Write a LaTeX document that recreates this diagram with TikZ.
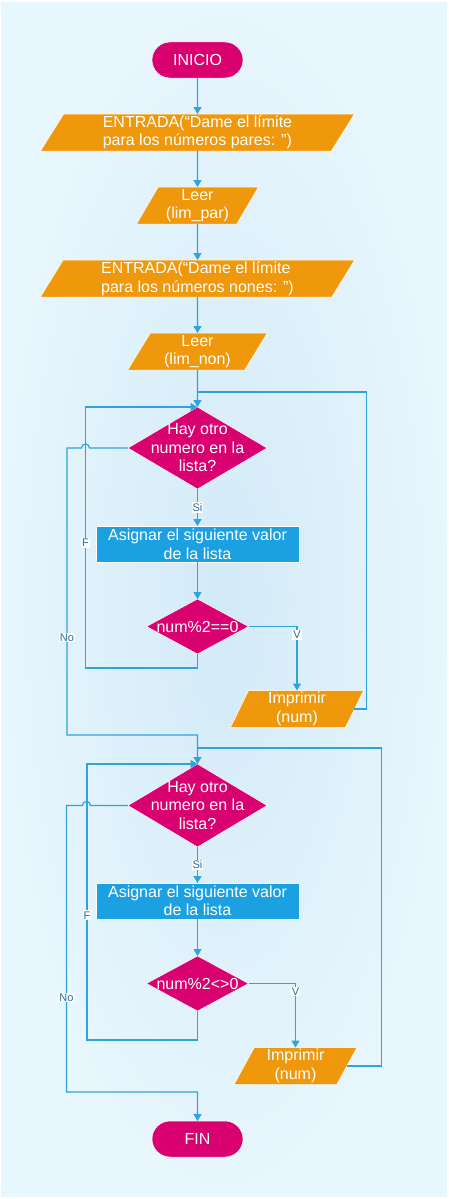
\documentclass[tikz,border=0pt]{standalone}
\usepackage{fontspec}
\setmainfont{Liberation Sans}
\usetikzlibrary{positioning,shapes.geometric,arrows.meta,calc}

\definecolor{termcol}{HTML}{D9006F}
\definecolor{iocol}{HTML}{F0980C}
\definecolor{proccol}{HTML}{1BA1E2}
\definecolor{linecol}{HTML}{2FA3DC}
\definecolor{lblcol}{HTML}{2E6A9F}
\definecolor{bgin}{HTML}{D2EAF7}
\definecolor{bgout}{HTML}{E8F6FD}

\begin{document}
\begin{tikzpicture}[x=1pt,y=-1pt,node distance=36pt,outer sep=0pt,
    font=\fontsize{16}{18.5}\selectfont,
    terminal/.style={rectangle,rounded corners=18pt,fill=termcol,draw=white,line width=0.5pt,text=white,minimum width=91pt,minimum height=36pt,inner sep=0pt},
    iobox/.style={trapezium,trapezium stretches=true,fill=iocol,draw=white,line width=0.5pt,text=white,minimum height=37pt,inner sep=0pt,align=center},
    procbox/.style={rectangle,fill=proccol,draw=white,line width=0.5pt,text=white,minimum width=203pt,minimum height=36pt,inner sep=0pt,align=center},
    decision/.style={diamond,fill=termcol,draw=white,line width=0.5pt,inner sep=0pt},
    flowline/.style={draw=linecol,line width=1.2pt},
    flowarrow/.style={flowline,-{Triangle[width=8pt,length=7pt]}},
    lbl/.style={fill=white,text=lblcol,inner sep=1pt,font=\fontsize{11}{12}\selectfont}]

\useasboundingbox (0,0) rectangle (449,1199);
\fill[white] (0,0) rectangle (449,1199);
\shade[inner color=bgin,outer color=bgout] (1,3) rectangle (447,1196);

% Entradas
\node[terminal] (inicio) at (197.5,60) {INICIO};
\node[iobox,trapezium left angle=64,trapezium right angle=116,minimum width=315pt,align=left,below=of inicio] (entrada1) {ENTRADA(“Dame el límite\\para los números pares: ”)};
\node[iobox,trapezium left angle=62,trapezium right angle=118,minimum width=122pt,below=of entrada1] (leer1) {Leer\\(lim\_par)};
\node[iobox,trapezium left angle=64,trapezium right angle=116,minimum width=315pt,align=left,below=of leer1] (entrada2) {ENTRADA(“Dame el límite\\para los números nones: ”)};
\node[iobox,trapezium left angle=64,trapezium right angle=116,minimum width=140pt,below=of entrada2] (leer2) {Leer\\(lim\_non)};

% Ciclo de los pares
\node[decision,minimum width=139pt,minimum height=82pt,below=37pt of leer2,label={[text=white,align=center]center:Hay otro\\numero en la\\lista?}] (otro1) {};
\node[procbox,below=37pt of otro1] (asig1) {Asignar el siguiente valor\\de la lista};
\node[decision,minimum width=102pt,minimum height=55pt,below=37pt of asig1,label={[text=white]center:num\%2==0}] (par) {};
\node[iobox,trapezium left angle=72,trapezium right angle=108,minimum width=134pt] (imp1) at (297,709) {Imprimir\\(num)};
\coordinate (join1) at (197.5,392);

% Ciclo de los nones
\node[decision,minimum width=139pt,minimum height=83pt,label={[text=white,align=center]center:Hay otro\\numero en la\\lista?}] (otro2) at (197.5,805.5) {};
\node[procbox,below=of otro2] (asig2) {Asignar el siguiente valor\\de la lista};
\node[decision,minimum width=102pt,minimum height=55pt,below=37pt of asig2,label={[text=white]center:num\%2<>0}] (non) {};
\node[iobox,trapezium left angle=67,trapezium right angle=113,minimum width=123pt] (imp2) at (295.5,1066) {Imprimir\\(num)};
\coordinate (join2) at (197.5,748);
\node[terminal] (fin) at (197.5,1139) {FIN};

% Conectores
\draw[flowarrow] (inicio) -- (entrada1);
\draw[flowarrow] (entrada1) -- (leer1);
\draw[flowarrow] (leer1) -- (entrada2);
\draw[flowarrow] (entrada2) -- (leer2);
\draw[flowarrow] (leer2) -- (otro1);
\draw[flowarrow] (otro1) -- node[lbl]{Si} (asig1);
\draw[flowarrow] (asig1) -- (par);
\draw[flowarrow] (par.east) -| node[lbl,pos=0.565]{V} (imp1.north);
\draw[flowline] (imp1.east) -- ++(12,0) |- (join1);
\draw[flowarrow] (par.south) -- ++(0,14) -| node[lbl,pos=0.74]{F} ($(otro1.north)+(-112,0)$) -- (otro1.north);
\draw[flowarrow] (otro1.west) -- ++(-38.5,0) .. controls +(0,-5.3) and +(0,-5.3) .. ++(-8,0) -- ($(otro1.west)+(-61,0)$) -- node[lbl,pos=0.66]{No} ++(0,287) -| (otro2.north);

\draw[flowarrow] (otro2) -- node[lbl]{Si} (asig2);
\draw[flowarrow] (asig2) -- (non);
\draw[flowarrow] (non.east) -| node[lbl,pos=0.5625]{V} (imp2.north);
\draw[flowline] (imp2.east) -- ++(35,0) |- (join2);
\draw[flowarrow] (non.south) -- ++(0,29) -| node[lbl,pos=0.726]{F} ($(otro2.north)+(-110.5,0)$) -- (otro2.north);
\draw[flowarrow] (otro2.west) -- ++(-37.5,0) .. controls +(0,-5.3) and +(0,-5.3) .. ++(-8,0) -- ($(otro2.west)+(-61.5,0)$) -- node[lbl,pos=0.67]{No} ++(0,286.5) -| (fin.north);

\end{tikzpicture}
\end{document}
